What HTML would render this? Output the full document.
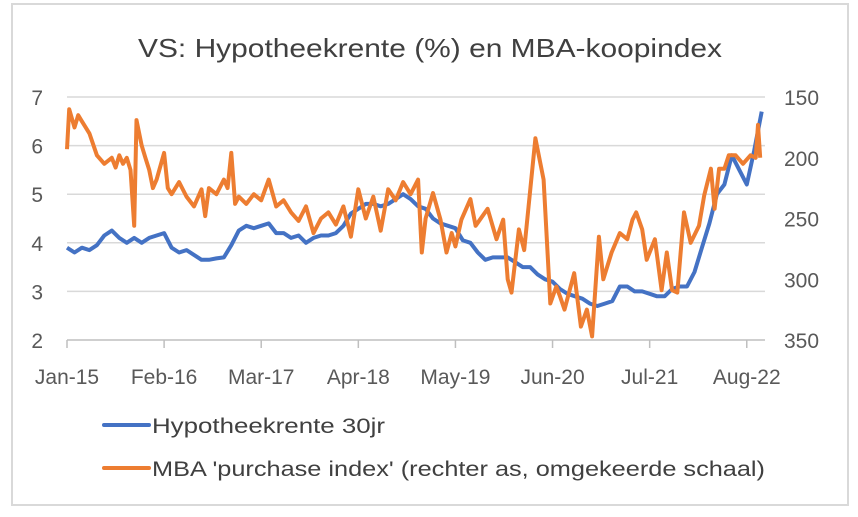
<!DOCTYPE html>
<html><head><meta charset="utf-8">
<style>
html,body{margin:0;padding:0;background:#fff;}
svg{display:block;font-family:"Liberation Sans",sans-serif;}
</style></head>
<body>
<svg id="chart" width="858" height="517" viewBox="0 0 858 517" xmlns="http://www.w3.org/2000/svg">
<rect x="12" y="4" width="836" height="501" fill="#fff" stroke="#d9d9d9" stroke-width="2"/>
<text x="430" y="57" text-anchor="middle" font-size="26" fill="#404040" textLength="584" lengthAdjust="spacingAndGlyphs">VS: Hypotheekrente (%) en MBA-koopindex</text>
<g id="grid"></g><g id="axes"></g><g id="series"></g>
<g>
<line x1="104" y1="425" x2="149" y2="425" stroke="#4472C4" stroke-width="4" stroke-linecap="round"/>
<text x="152" y="433" font-size="21" fill="#404040" textLength="233" lengthAdjust="spacingAndGlyphs">Hypotheekrente 30jr</text>
<line x1="104" y1="468" x2="149" y2="468" stroke="#ED7D31" stroke-width="4" stroke-linecap="round"/>
<text x="152" y="476" font-size="21" fill="#404040" textLength="613" lengthAdjust="spacingAndGlyphs">MBA 'purchase index' (rechter as, omgekeerde schaal)</text>
</g>
</svg>
<script>
const leftTicks=[2,3,4,5,6,7];
const rightTicks=[150,200,250,300,350];
const xTickLabels=["Jan-15","Feb-16","Mar-17","Apr-18","May-19","Jun-20","Jul-21","Aug-22"];
const xTickMonths=[0,13,26,39,52,65,78,91];
const rateValues=[3.9,3.8,3.9,3.85,3.95,4.15,4.25,4.1,4.0,4.1,4.0,4.1,
4.15,4.2,3.9,3.8,3.85,3.75,3.65,3.65,3.68,3.7,3.95,4.25,
4.35,4.3,4.35,4.4,4.2,4.2,4.1,4.15,4.0,4.1,4.15,4.15,
4.2,4.35,4.6,4.7,4.8,4.8,4.75,4.8,4.9,5.0,4.9,4.75,
4.7,4.5,4.4,4.35,4.3,4.05,4.0,3.8,3.65,3.7,3.7,3.7,
3.6,3.5,3.5,3.35,3.25,3.2,3.05,2.95,2.9,2.85,2.75,2.7,
2.75,2.8,3.1,3.1,3.0,3.0,2.95,2.9,2.9,3.05,3.1,3.1,
3.4,3.9,4.4,5.0,5.2,5.8,5.5,5.2,5.9,6.7];
const mbaMonths=[0,0.3,1,1.5,2,3,4,5,6,6.5,7,7.5,8,8.5,9,9.3,10,10.5,11,11.5,12,13,13.5,14,15,16,17,18,18.5,19,20,21,21.5,22,22.5,23,24,25,26,27,28,29,30,31,32,33,34,35,36,37,38,39,40,41,42,43,44,45,46,47,47.5,48,49,50,50.8,51.5,52,52.8,54,54.7,56.3,57.5,58.4,59,59.5,60.5,61.2,62.7,63.8,64.7,65.5,66,66.6,67.9,68.8,69.6,70.3,71.2,71.8,72.9,74,75,75.7,76.2,77,77.6,78.7,79.6,80.3,81,81.7,82.6,83.5,84.6,85.3,86.2,86.7,87.3,88,88.6,89.5,90.5,91.5,92.2,92.5,92.8];
const mbaValues=[193,160,175,165,170,180,198,205,200,208,198,205,200,210,256,169,190,200,210,225,218,196,225,230,220,232,240,226,248,225,230,218,225,196,238,232,238,230,235,218,240,235,245,252,240,262,250,245,255,240,265,226,250,232,260,226,235,220,230,218,278,250,229,251,278,262,273,251,234,256,242,267,251,300,311,259,276,184,218,320,306,314,325,295,339,325,347,265,300,278,262,267,251,245,259,284,267,309,278,309,311,245,270,256,231,209,242,209,209,198,198,205,198,200,173,200];

const X0=67,PX_PER_MONTH=7.47,Y_TOP=97,Y_BOT=340;
const xScale=m=>X0+m*PX_PER_MONTH;
const yLeft=v=>Y_BOT-(v-2)/5*(Y_BOT-Y_TOP);
const yRight=v=>Y_TOP+(v-150)/200*(Y_BOT-Y_TOP);
const NS="http://www.w3.org/2000/svg";
function mk(tag,attrs,parent){const e=document.createElementNS(NS,tag);for(const k in attrs)e.setAttribute(k,attrs[k]);parent.appendChild(e);return e;}
const grid=document.getElementById('grid'),axes=document.getElementById('axes'),series=document.getElementById('series');
leftTicks.forEach(t=>{
  const y=yLeft(t);
  const l=mk('line',{x1:X0,x2:765,y1:y,y2:y,stroke:t===2?'#bfbfbf':'#d9d9d9','stroke-width':1.5},grid);
  
  
  const tx=mk('text',{x:43,y:y+8,'text-anchor':'end','font-size':21,fill:'#595959'},axes);
  tx.textContent=t;
  
  
});
rightTicks.forEach(t=>{
  const y=yRight(t);
  const tx=mk('text',{x:784,y:y+8,'font-size':21,fill:'#595959'},axes);
  tx.textContent=t;
  
  
});
xTickLabels.forEach((lab,i)=>{
  const x=xScale(xTickMonths[i]);
  const tk=mk('line',{x1:x,x2:x,y1:Y_BOT,y2:Y_BOT+8,stroke:'#bfbfbf','stroke-width':1.5},axes);
  
  
  const tx=mk('text',{x:x,y:384,'text-anchor':'middle','font-size':21,fill:'#595959'},axes);
  tx.textContent=lab;
  
  
});
const rp=rateValues.map((v,i)=>xScale(i).toFixed(1)+','+yLeft(v).toFixed(1)).join(' ');
const rl=mk('polyline',{points:rp,fill:'none',stroke:'#4472C4','stroke-width':4,'stroke-linejoin':'round'},series);


const mp=mbaValues.map((v,i)=>xScale(mbaMonths[i]).toFixed(1)+','+yRight(v).toFixed(1)).join(' ');
const ml=mk('polyline',{points:mp,fill:'none',stroke:'#ED7D31','stroke-width':4,'stroke-linejoin':'round'},series);


</script>
</body></html>
